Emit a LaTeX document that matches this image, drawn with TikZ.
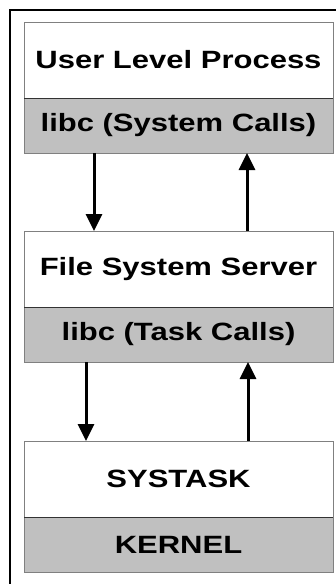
\documentclass[tikz,border=0pt]{standalone}
\usepackage{fontspec}
\setmainfont{Liberation Sans}[FakeStretch=1.24]
\usepackage{tikz}
\usetikzlibrary{positioning,arrows.meta}

\definecolor{boxgray}{HTML}{C0C0C0}
\definecolor{edgegray}{HTML}{808080}

\tikzset{
  upper/.style={draw=edgegray, fill=white, minimum width=309pt, minimum height=76pt,
    inner sep=0pt, outer sep=0pt, font=\fontsize{25}{30}\selectfont\bfseries},
  lower/.style={upper, fill=boxgray, minimum height=55pt},
  divider/.style={line width=1pt, black!80},
  flow/.style={line width=3pt, -{Triangle[length=17pt,width=16pt]}}
}

\begin{document}
\begin{tikzpicture}[x=1pt, y=-1pt]
\useasboundingbox (0,0) rectangle (336,584);
\clip (0,0) rectangle (336,584);
\draw[line width=2pt] (10,10) rectangle (360,610);
\node[upper] (user) at (178.5,60) {User Level Process};
\node[lower, below=0pt of user] (usrlibc) {libc (System Calls)};
\node[upper, below=78pt of usrlibc] (fss) {File System Server};
\node[lower, below=0pt of fss] (fsslibc) {libc (Task Calls)};
\node[upper, below=79pt of fsslibc] (systask) {SYSTASK};
\node[lower, below=0pt of systask] (kernel) {KERNEL};
\draw[divider] (user.south west) -- (user.south east);
\draw[divider] (fss.south west) -- (fss.south east);
\draw[divider] (systask.south west) -- (systask.south east);
\draw[flow] ([xshift=-84.5pt]usrlibc.south) -- ([xshift=-84.5pt]fss.north);
\draw[flow] ([xshift=68.5pt]fss.north) -- ([xshift=68.5pt]usrlibc.south);
\draw[flow] ([xshift=-92.5pt]fsslibc.south) -- ([xshift=-92.5pt]systask.north);
\draw[flow] ([xshift=69.5pt]systask.north) -- ([xshift=69.5pt]fsslibc.south);
\end{tikzpicture}
\end{document}
